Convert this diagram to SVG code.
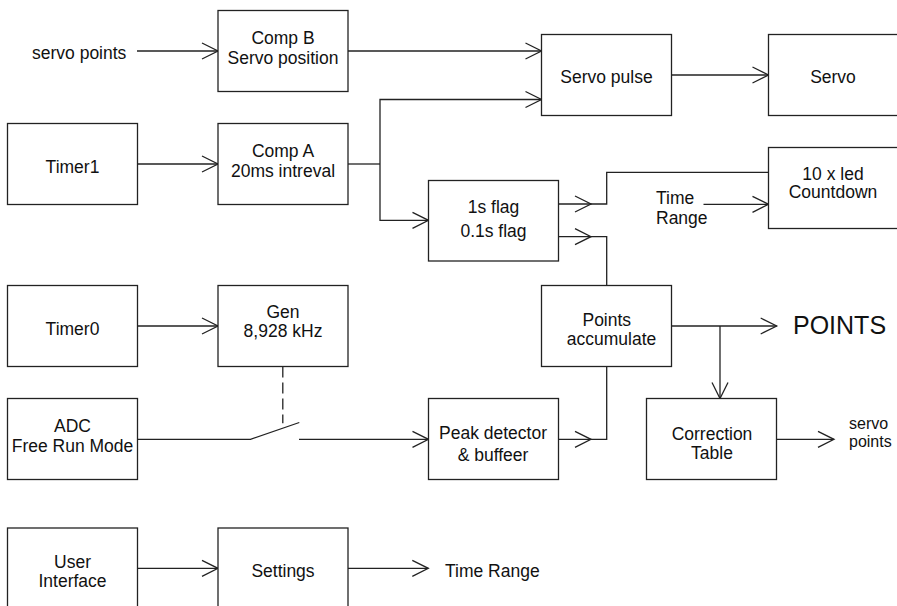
<svg xmlns="http://www.w3.org/2000/svg" width="897" height="606" viewBox="0 0 897 606">
<style>
rect.box{fill:#fff;stroke:#222;stroke-width:1.3}
.c{fill:none;stroke:#222;stroke-width:1.3}
.a{marker-end:url(#ah)}
.d{stroke-dasharray:11 5}
text{font-family:"Liberation Sans",Arial,sans-serif;font-size:17.5px;fill:#111}
.m{text-anchor:middle}
.big{font-size:25px}
.sm{font-size:16px}
</style>
<defs>
<marker id="ah" markerUnits="userSpaceOnUse" viewBox="-17 -10 18 20" markerWidth="18" markerHeight="20" refX="0" refY="0" orient="auto" overflow="visible">
<path d="M-16,-8 L0,0 L-16,8" fill="none" stroke="#222" stroke-width="1.3"/>
</marker>
</defs>
<rect width="897" height="606" fill="#fff"/>
<g id="connectors">
<path class="c a" d="M137,51 H218"/>
<path class="c a" d="M348,51 H541.5"/>
<path class="c a" d="M137.5,164 H218"/>
<path class="c" d="M348,164 H380"/>
<path class="c a" d="M380,164 V99.5 H541.5"/>
<path class="c a" d="M380,164 V220.3 H428.5"/>
<path class="c a" d="M671.5,75 H768.5"/>
<path class="c a" d="M558.5,204 H591"/>
<path class="c" d="M591,204 H606.7 V172.3 H768.5"/>
<path class="c a" d="M703.5,204.3 H768.5"/>
<path class="c a" d="M558.5,236.7 H591"/>
<path class="c" d="M591,236.7 H606.7 V285.5"/>
<path class="c a" d="M137.5,326 H218"/>
<path class="c a" d="M671.5,326 H776.7"/>
<path class="c a" d="M720,326 V398.5"/>
<path class="c d" d="M282.8,366.5 V423.3"/>
<path class="c" d="M137.5,439.3 H250.5 L299.3,422.5"/>
<path class="c a" d="M299,439.3 H428.5"/>
<path class="c a" d="M558.5,439.3 H591"/>
<path class="c" d="M591,439.3 H606.7 V366.5"/>
<path class="c a" d="M776.5,439.3 H834"/>
<path class="c a" d="M137.5,568.3 H218"/>
<path class="c a" d="M348,568.3 H428.3"/>
</g>
<text x="32" y="58.5">servo points</text>
<text x="656" y="204">Time</text>
<text x="656" y="223.5">Range</text>
<text class="big" x="793" y="334">POINTS</text>
<text class="sm" x="849" y="428.5">servo</text>
<text class="sm" x="849" y="446.5">points</text>
<text x="445" y="576.7">Time Range</text>
<g id="compB"><rect class="box" x="218" y="10.5" width="130" height="81"/><text class="m" x="283" y="43.5">Comp B</text><text class="m" x="283" y="63.5">Servo position</text></g>
<g id="timer1"><rect class="box" x="7.5" y="123.5" width="130" height="81"/><text class="m" x="72.5" y="172.5">Timer1</text></g>
<g id="compA"><rect class="box" x="218" y="123.5" width="130" height="81"/><text class="m" x="283" y="156.7">Comp A</text><text class="m" x="283" y="176.7">20ms intreval</text></g>
<g id="servoPulse"><rect class="box" x="541.5" y="34.5" width="130" height="81"/><text class="m" x="606.5" y="83.3">Servo pulse</text></g>
<g id="servo"><rect class="box" x="768.5" y="34.5" width="130" height="81"/><text class="m" x="833" y="83.3">Servo</text></g>
<g id="flags"><rect class="box" x="428.5" y="180.5" width="130" height="80.5"/><text class="m" x="493.5" y="212.7">1s flag</text><text class="m" x="493.5" y="236.7">0.1s flag</text></g>
<g id="ledCountdown"><rect class="box" x="768.5" y="147.5" width="130" height="81"/><text class="m" x="833" y="180">10 x led</text><text class="m" x="833" y="198.3">Countdown</text></g>
<g id="timer0"><rect class="box" x="7.5" y="285.5" width="130" height="81"/><text class="m" x="72.5" y="335">Timer0</text></g>
<g id="gen"><rect class="box" x="218" y="285.5" width="130" height="81"/><text class="m" x="283" y="318.3">Gen</text><text class="m" x="283" y="337.3">8,928 kHz</text></g>
<g id="pointsAccumulate"><rect class="box" x="541.5" y="285.5" width="130" height="81"/><text class="m" x="606.8" y="326">Points</text><text class="m" x="611.5" y="345">accumulate</text></g>
<g id="adc"><rect class="box" x="7.5" y="398.5" width="130" height="81"/><text class="m" x="72.5" y="431.7">ADC</text><text class="m" x="72.5" y="451.7">Free Run Mode</text></g>
<g id="peak"><rect class="box" x="428.5" y="398.5" width="130" height="81"/><text class="m" x="493" y="439.3">Peak detector</text><text class="m" x="493" y="460.7">&amp; buffeer</text></g>
<g id="correction"><rect class="box" x="646.5" y="398.5" width="130" height="81"/><text class="m" x="712" y="440">Correction</text><text class="m" x="712" y="459.3">Table</text></g>
<g id="userInterface"><rect class="box" x="7.5" y="528" width="130" height="90"/><text class="m" x="72.5" y="568">User</text><text class="m" x="72.5" y="587">Interface</text></g>
<g id="settings"><rect class="box" x="218" y="528" width="130" height="90"/><text class="m" x="283" y="576.5">Settings</text></g>
</svg>
